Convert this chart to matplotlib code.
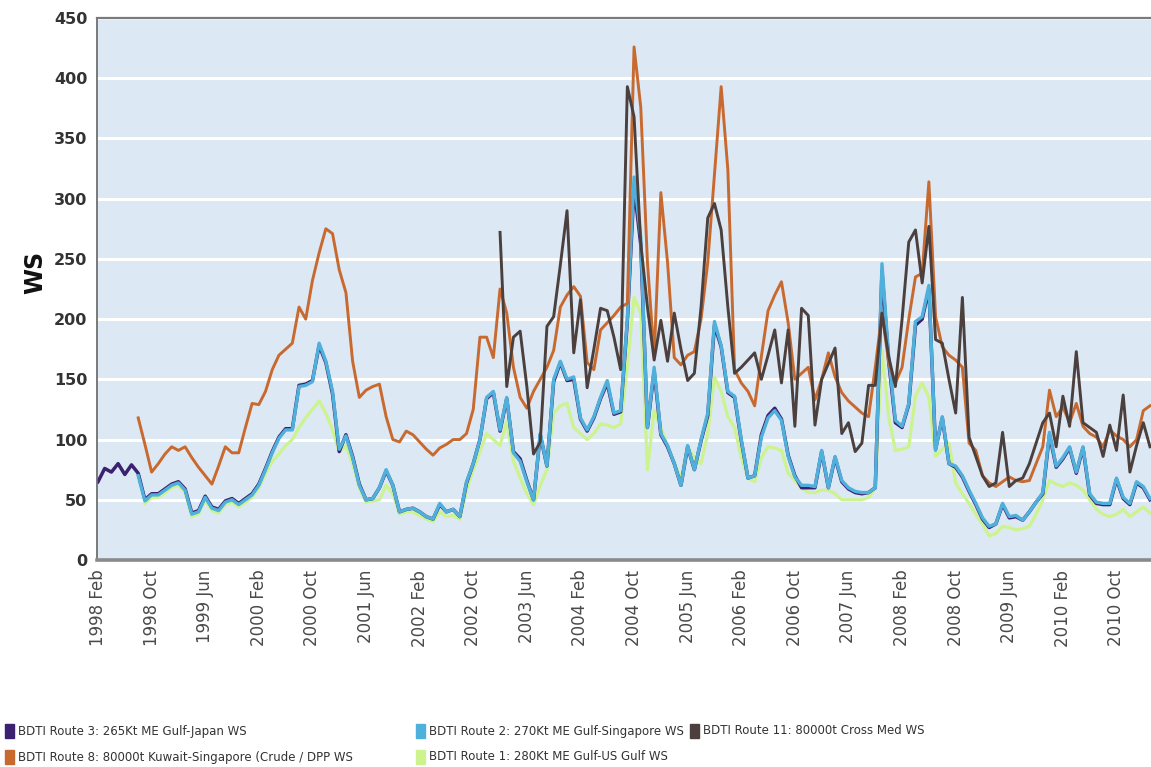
import numpy as np
import pandas as pd
import matplotlib
matplotlib.use("Agg")
import matplotlib.pyplot as plt
from matplotlib.patches import Rectangle

# monthly Worldscale rates, Feb 1998 onwards
months = pd.date_range("1998-02-01", periods=158, freq="MS").strftime("%Y %b").tolist()

route3_start = 0
route3 = [65, 76, 73, 80, 71, 79, 72, 50, 55, 55,
          59, 63, 65, 59, 39, 41, 53, 44, 42, 49,
          51, 47, 51, 55, 63, 76, 90, 102, 109, 109,
          145, 146, 149, 178, 164, 138, 90, 104, 86, 63,
          50, 51, 60, 74, 62, 40, 42, 43, 40, 36,
          34, 46, 40, 42, 36, 64, 80, 100, 134, 139,
          107, 134, 90, 84, 66, 50, 104, 78, 148, 164,
          149, 150, 117, 107, 118, 134, 147, 121, 123, 198,
          310, 262, 110, 157, 104, 94, 80, 62, 94, 75,
          99, 120, 195, 177, 139, 135, 99, 68, 70, 104,
          120, 126, 117, 87, 70, 60, 60, 60, 90, 60,
          85, 65, 59, 56, 55, 56, 60, 240, 165, 114,
          110, 129, 195, 200, 225, 92, 118, 80, 77, 69,
          57, 46, 34, 27, 30, 46, 35, 36, 33, 40,
          48, 55, 104, 77, 84, 93, 72, 93, 54, 47,
          46, 46, 67, 51, 46, 64, 60, 50]

route2_start = 6
route2 = [70, 49, 54, 54, 58, 62, 64, 58, 38, 40,
          52, 43, 41, 48, 50, 46, 50, 54, 62, 75,
          89, 101, 108, 108, 144, 145, 148, 180, 165, 140,
          92, 103, 85, 62, 50, 51, 60, 75, 62, 40,
          42, 43, 40, 36, 34, 47, 40, 42, 36, 65,
          80, 100, 135, 140, 108, 135, 89, 82, 65, 50,
          105, 78, 150, 165, 150, 152, 118, 108, 119, 135,
          149, 122, 124, 200, 318, 268, 110, 160, 105, 95,
          80, 62, 95, 75, 100, 122, 198, 178, 140, 136,
          100, 68, 70, 102, 118, 124, 116, 86, 69, 62,
          62, 61, 91, 60, 86, 66, 60, 57, 56, 56,
          60, 246, 169, 116, 111, 130, 198, 202, 228, 91,
          119, 80, 78, 70, 58, 47, 35, 28, 30, 47,
          36, 37, 33, 40, 48, 56, 106, 78, 85, 94,
          73, 94, 55, 48, 47, 47, 68, 52, 47, 65,
          61, 51]

route11_start = 60
route11 = [272, 144, 185, 190, 144, 88, 98, 194, 202, 245,
           290, 172, 216, 143, 175, 209, 207, 185, 158, 393,
           368, 263, 210, 166, 199, 165, 205, 175, 149, 155,
           210, 284, 296, 274, 210, 155, 160, 166, 172, 150,
           170, 191, 147, 191, 111, 209, 203, 112, 150, 163,
           176, 105, 114, 90, 97, 145, 145, 205, 169, 144,
           200, 264, 274, 230, 277, 183, 180, 150, 122, 218,
           102, 86, 70, 61, 64, 106, 61, 66, 68, 80,
           97, 114, 122, 94, 136, 111, 173, 114, 110, 106,
           86, 112, 91, 137, 73, 95, 114, 94]

route8_start = 6
route8 = [118, 96, 73, 80, 88, 94, 91, 94, 85, 77,
          70, 63, 78, 94, 89, 89, 110, 130, 129, 140,
          158, 170, 175, 180, 210, 200, 232, 255, 275, 271,
          241, 222, 165, 135, 141, 144, 146, 119, 100, 98,
          107, 104, 98, 92, 87, 93, 96, 100, 100, 105,
          125, 185, 185, 168, 225, 205, 160, 135, 126, 140,
          150, 160, 174, 210, 220, 227, 219, 164, 158, 191,
          197, 203, 210, 213, 426, 376, 247, 169, 305, 247,
          168, 162, 170, 173, 200, 247, 320, 393, 324, 158,
          147, 140, 128, 169, 207, 220, 231, 197, 150, 155,
          160, 133, 150, 172, 152, 139, 132, 127, 122, 119,
          160, 205, 164, 147, 160, 200, 235, 238, 314, 202,
          177, 170, 166, 160, 97, 91, 70, 64, 61, 65,
          69, 66, 65, 66, 80, 94, 141, 119, 127, 114,
          130, 111, 105, 102, 94, 108, 103, 100, 94, 100,
          124, 128]

route1_start = 7
route1 = [47, 52, 52, 56, 60, 62, 56, 36, 38, 50,
          41, 39, 46, 48, 44, 48, 52, 60, 72, 82,
          88, 95, 100, 110, 118, 125, 132, 122, 108, 90,
          95, 80, 60, 48, 49, 50, 62, 55, 38, 40,
          40, 37, 34, 32, 40, 36, 37, 34, 58, 75,
          90, 105, 100, 95, 115, 82, 68, 55, 46, 62,
          75, 122, 128, 130, 110, 105, 100, 105, 113, 112,
          110, 113, 160, 218, 205, 75, 124, 110, 94, 80,
          68, 94, 85, 80, 105, 152, 140, 119, 110, 85,
          68, 65, 85, 94, 93, 91, 72, 66, 60, 56,
          56, 58, 58, 55, 50, 50, 50, 50, 52, 60,
          174, 119, 91, 92, 94, 136, 147, 135, 86, 92,
          97, 64, 55, 47, 38, 30, 20, 22, 28, 27,
          25, 26, 28, 38, 50, 66, 63, 61, 64, 62,
          58, 50, 42, 38, 36, 38, 42, 36, 40, 44,
          39]

labels = {
    "r3": "BDTI Route 3: 265Kt ME Gulf-Japan WS",
    "r2": "BDTI Route 2: 270Kt ME Gulf-Singapore WS",
    "r11": "BDTI Route 11: 80000t Cross Med WS",
    "r8": "BDTI Route 8: 80000t Kuwait-Singapore (Crude / DPP WS",
    "r1": "BDTI Route 1: 280Kt ME Gulf-US Gulf WS",
}
colors = {"r3": "#3b2170", "r2": "#4fb0dc", "r11": "#4b403d",
          "r8": "#c8692f", "r1": "#cdf38f"}

fig = plt.figure(figsize=(11.51, 7.67), dpi=100)
W, H = 1151.0, 767.0
ax = fig.add_axes([97 / W, 1 - 560 / H, 1 - 97 / W, (560 - 18) / H])
ax.set_facecolor("#dce8f4")

# drawing order: light green at the back, Route 11 on top
draw = [("r1", route1_start, route1, 2.3),
        ("r3", route3_start, route3, 2.5),
        ("r2", route2_start, route2, 2.4),
        ("r8", route8_start, route8, 2.1),
        ("r11", route11_start, route11, 2.1)]
for key, start, vals, lw in draw:
    x = np.arange(start, start + len(vals))
    ax.plot(x, vals, color=colors[key], lw=lw, solid_joinstyle="round")

ax.set_xlim(-0.15, 157.15)
ax.set_ylim(0, 450)
ax.set_yticks(np.arange(0, 451, 50))
ax.yaxis.grid(True, color="white", lw=2.2)
ax.set_axisbelow(True)

ticks = np.arange(0, len(months), 8)
ax.set_xticks(ticks)
ax.set_xticklabels([months[i] for i in ticks], rotation=90, fontsize=12,
                   color="#4a4a4a")
ax.tick_params(axis="x", length=0, pad=7)
ax.tick_params(axis="y", length=0, pad=7, labelsize=11.5, labelcolor="#333333")
for t in ax.get_yticklabels():
    t.set_fontweight("bold")

ax.spines["right"].set_visible(False)
ax.spines["left"].set_color("#6f6f6f")
ax.spines["left"].set_linewidth(1.3)
ax.spines["top"].set_color("#7a7a7a")
ax.spines["top"].set_linewidth(1.6)
ax.spines["bottom"].set_color("#8a8a8a")
ax.spines["bottom"].set_linewidth(2.6)

fig.text(35 / W, 1 - 272 / H, "WS", rotation=90, fontsize=17, fontweight="bold",
         ha="center", va="center", color="#111111")

# legend laid out in two rows underneath
legend_rows = [("r3", 5, 731), ("r2", 416, 731), ("r11", 690, 731),
               ("r8", 5, 757), ("r1", 416, 757)]
for key, px, py in legend_rows:
    fig.patches.append(Rectangle((px / W, 1 - (py + 7) / H), 9 / W, 14 / H,
                                 transform=fig.transFigure, color=colors[key]))
    fig.text((px + 13) / W, 1 - py / H, labels[key], fontsize=8.5,
             color="#333333", va="center", ha="left",
             family=["Liberation Sans Narrow", "DejaVu Sans"])

fig.savefig("out.png", dpi=100)
